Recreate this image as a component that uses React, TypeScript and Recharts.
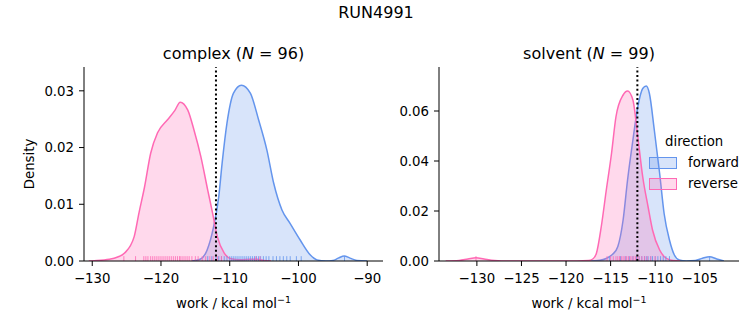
import { ComposedChart, Area, XAxis, YAxis, ReferenceLine, Legend } from 'recharts';

const FONT = "'DejaVu Sans', sans-serif";
const BLUE = '#6495ed';
const PINK = '#ff69b4';

// complex leg: KDE (work in kcal/mol, density)
const cplxFwdX = [-115.5, -114.3, -113.3, -112.35, -111.6, -111.1, -110.4, -109.45, -108.3, -107.0, -105.8, -104.6, -103.6, -102.4, -101.2, -99.75, -98.3, -97.3, -96.0, -95.0, -94.2, -93.35, -92.5, -91.5, -90.0];
const cplxFwdD = [0, 0.0003, 0.0019, 0.006, 0.0113, 0.0173, 0.0243, 0.0296, 0.031, 0.0296, 0.0249, 0.0196, 0.0137, 0.009, 0.0066, 0.0037, 0.0011, 0.0002, 0, 0.0001, 0.0005, 0.0009, 0.0005, 0.0001, 0];
const cplxRevX = [-130.5, -129.7, -127.5, -126.3, -125.3, -123.9, -123.2, -122.4, -121.5, -120.5, -119.05, -118.0, -117.2, -116.1, -115.2, -114.2, -113.2, -112.5, -111.8, -110.8, -109.8, -108.5, -107.0, -106.0, -105.0, -104.0];
const cplxRevD = [0, 0.00005, 0.0003, 0.0007, 0.0014, 0.0043, 0.0085, 0.013, 0.019, 0.0226, 0.0249, 0.0265, 0.028, 0.0266, 0.0231, 0.0184, 0.0125, 0.0085, 0.0043, 0.0014, 0.0004, 0.0002, 0.0003, 0.0003, 0.0001, 0];
const cplxFwdRug = [-113.2, -112.6, -112.0, -111.6, -111.2, -110.8, -110.4, -110.0, -109.7, -109.4, -109.1, -108.8, -108.5, -108.2, -107.9, -107.6, -107.3, -107.0, -106.7, -106.4, -106.1, -105.8, -105.5, -105.1, -104.7, -104.3, -103.7, -103.2, -102.7, -102.2, -101.7, -101.2, -100.3, -99.6, -93.3];
const cplxRevRug = [-125.4, -123.7, -122.5, -122.2, -121.9, -121.5, -121.2, -120.9, -120.6, -120.3, -120.0, -119.7, -119.4, -119.1, -118.8, -118.5, -118.2, -117.9, -117.6, -117.3, -117.1, -116.8, -116.5, -116.2, -115.9, -115.5, -115.0, -114.6, -114.0, -113.5, -112.9, -112.4, -111.8, -111.2, -106.2, -105.6];

// solvent leg
const solvFwdX = [-117.5, -116.2, -115.5, -114.75, -114.2, -113.6, -113.1, -112.5, -111.95, -111.4, -111.0, -110.65, -110.1, -109.5, -109.0, -108.4, -107.85, -107.3, -106.5, -105.5, -104.7, -103.9, -103.1, -102.3];
const solvFwdD = [0, 0.0003, 0.001, 0.0028, 0.0057, 0.0164, 0.0324, 0.0484, 0.0617, 0.069, 0.07, 0.067, 0.0524, 0.035, 0.019, 0.0084, 0.0024, 0.0004, 0, 0.0002, 0.0011, 0.0017, 0.0008, 0];
const solvRevX = [-133.5, -132.0, -131.0, -130.1, -129.2, -128.0, -126.5, -120.0, -117.5, -117.0, -116.6, -116.05, -115.5, -114.9, -114.4, -113.6, -113.1, -112.5, -111.95, -111.4, -110.8, -110.3, -109.5, -108.8, -108.0, -107.2];
const solvRevD = [0, 0.0002, 0.0008, 0.0013, 0.0008, 0.0002, 0, 0, 0.0002, 0.0008, 0.003, 0.0137, 0.028, 0.043, 0.0577, 0.0664, 0.068, 0.0644, 0.0497, 0.0337, 0.0217, 0.0124, 0.0044, 0.0012, 0.0002, 0];
const solvFwdRug = [-115.1, -113.9, -113.3, -112.9, -112.5, -112.1, -111.8, -111.5, -111.2, -111.0, -110.8, -110.5, -110.3, -110.0, -109.7, -109.4, -109.1, -108.8, -108.4, -103.9];
const solvRevRug = [-130.1, -115.4, -115.0, -114.7, -114.4, -114.2, -114.0, -113.8, -113.6, -113.4, -113.2, -113.0, -112.8, -112.6, -112.4, -112.2, -112.0, -111.8, -111.5, -111.2, -110.9, -110.5, -110.0];

const cplxXTicks = [-130, -120, -110, -100, -90];
const cplxYTicks = [0, 0.01, 0.02, 0.03];
const solvXTicks = [-130, -125, -120, -115, -110, -105];
const solvYTicks = [0, 0.02, 0.04, 0.06];
const midpoint = -112;

const toSeries = (xs: number[], ds: number[]) => xs.map((x, i) => ({ x, d: ds[i] }));
const fmtX = (v: number) => (v < 0 ? `\u2212${Math.abs(v)}` : `${v}`);
const fmtY = (v: number) => v.toFixed(2);

const tickStyle = { fill: '#000', fontSize: 13.3, fontFamily: FONT };

function LegendBox() {
  const row = (c: string, label: string) => (
    <div style={{ display: 'flex', alignItems: 'center', height: 21 }}>
      <span style={{ width: 26, height: 10, border: `1px solid ${c}`, background: c + '40', marginRight: 11 }} />
      <span>{label}</span>
    </div>
  );
  return (
    <div style={{ fontFamily: FONT, fontSize: 13.3, color: '#000', lineHeight: '16px' }}>
      <div style={{ marginLeft: 16, height: 16, marginBottom: 2 }}>direction</div>
      {row(BLUE, 'forward')}
      {row(PINK, 'reverse')}
    </div>
  );
}

interface PanelProps {
  left: number;
  width: number;
  yWidth: number;
  right: number;
  xDomain: [number, number];
  xTicks: number[];
  yMax: number;
  yTicks: number[];
  fwd: { x: number; d: number }[];
  rev: { x: number; d: number }[];
  fwdRug: number[];
  revRug: number[];
  legend?: boolean;
}

function Panel(p: PanelProps) {
  const rugH = p.yMax * 0.025;
  return (
    <div style={{ position: 'absolute', left: p.left, top: 0 }}>
      <ComposedChart width={p.width} height={325} margin={{ top: 67, right: p.right, bottom: 0, left: 0 }}>
        <XAxis type="number" dataKey="x" domain={p.xDomain} ticks={p.xTicks} allowDataOverflow
          tickFormatter={fmtX} tick={tickStyle} tickSize={5} tickMargin={8} height={64}
          axisLine={{ stroke: '#000', strokeWidth: 1 }} tickLine={{ stroke: '#000' }} />
        <YAxis type="number" domain={[0, p.yMax]} ticks={p.yTicks} allowDataOverflow width={p.yWidth}
          tickFormatter={fmtY} tick={tickStyle} tickSize={5} tickMargin={5}
          axisLine={{ stroke: '#000', strokeWidth: 1 }} tickLine={{ stroke: '#000' }} />
        <Area data={p.fwd} dataKey="d" type="monotone" stroke={BLUE} strokeWidth={1.5} fill={BLUE}
          fillOpacity={0.25} dot={false} activeDot={false} isAnimationActive={false} />
        <Area data={p.rev} dataKey="d" type="monotone" stroke={PINK} strokeWidth={1.5} fill={PINK}
          fillOpacity={0.25} dot={false} activeDot={false} isAnimationActive={false} />
        {p.fwdRug.map((v, i) => (
          <ReferenceLine key={'f' + i} segment={[{ x: v, y: 0 }, { x: v, y: rugH }]} stroke={BLUE} strokeOpacity={0.8} />
        ))}
        {p.revRug.map((v, i) => (
          <ReferenceLine key={'r' + i} segment={[{ x: v, y: 0 }, { x: v, y: rugH }]} stroke={PINK} strokeOpacity={0.8} />
        ))}
        <ReferenceLine x={midpoint} stroke="#000" strokeWidth={2} strokeDasharray="2 2.6" />
        {p.legend && (
          <Legend layout="horizontal" verticalAlign="middle" align="center"
            wrapperStyle={{ left: 274, top: 134, width: 104, height: 62 }} content={() => <LegendBox />} />
        )}
      </ComposedChart>
    </div>
  );
}

const textAt = (cx: number, cy: number, size: number, children: any, w = 300) => (
  <div style={{ position: 'absolute', left: cx - w / 2, top: cy - 10, width: w, height: 20, lineHeight: '20px',
    textAlign: 'center', fontSize: size, fontFamily: FONT, color: '#000', whiteSpace: 'nowrap' }}>
    {children}
  </div>
);

const xLabel = <span>work / kcal mol<sup style={{ fontSize: 9.5, verticalAlign: 5 }}>{'\u22121'}</sup></span>;

export default function App() {
  return (
    <div style={{ position: 'absolute', left: 0, top: 0, width: 753, height: 325, background: '#fff', overflow: 'hidden' }}>
      <Panel left={0} width={390} yWidth={84} right={7} xDomain={[-131.2, -87.7]} xTicks={cplxXTicks}
        yMax={0.0342} yTicks={cplxYTicks} fwd={toSeries(cplxFwdX, cplxFwdD)} rev={toSeries(cplxRevX, cplxRevD)}
        fwdRug={cplxFwdRug} revRug={cplxRevRug} />
      <Panel left={375} width={378} yWidth={64} right={14} xDomain={[-134.25, -100.6]} xTicks={solvXTicks}
        yMax={0.0776} yTicks={solvYTicks} fwd={toSeries(solvFwdX, solvFwdD)} rev={toSeries(solvRevX, solvRevD)}
        fwdRug={solvFwdRug} revRug={solvRevRug} legend />
      {textAt(376, 13, 16, 'RUN4991')}
      {textAt(233.5, 54, 16, <span>complex (<i>N</i> = 96)</span>)}
      {textAt(589, 54, 16, <span>solvent (<i>N</i> = 99)</span>)}
      {textAt(233.5, 300, 13.3, xLabel)}
      {textAt(589, 300, 13.3, xLabel)}
      <div style={{ position: 'absolute', left: 30 - 40, top: 164 - 10, width: 80, height: 20, lineHeight: '20px',
        textAlign: 'center', fontSize: 13.3, fontFamily: FONT, transform: 'rotate(-90deg)' }}>Density</div>
    </div>
  );
}
